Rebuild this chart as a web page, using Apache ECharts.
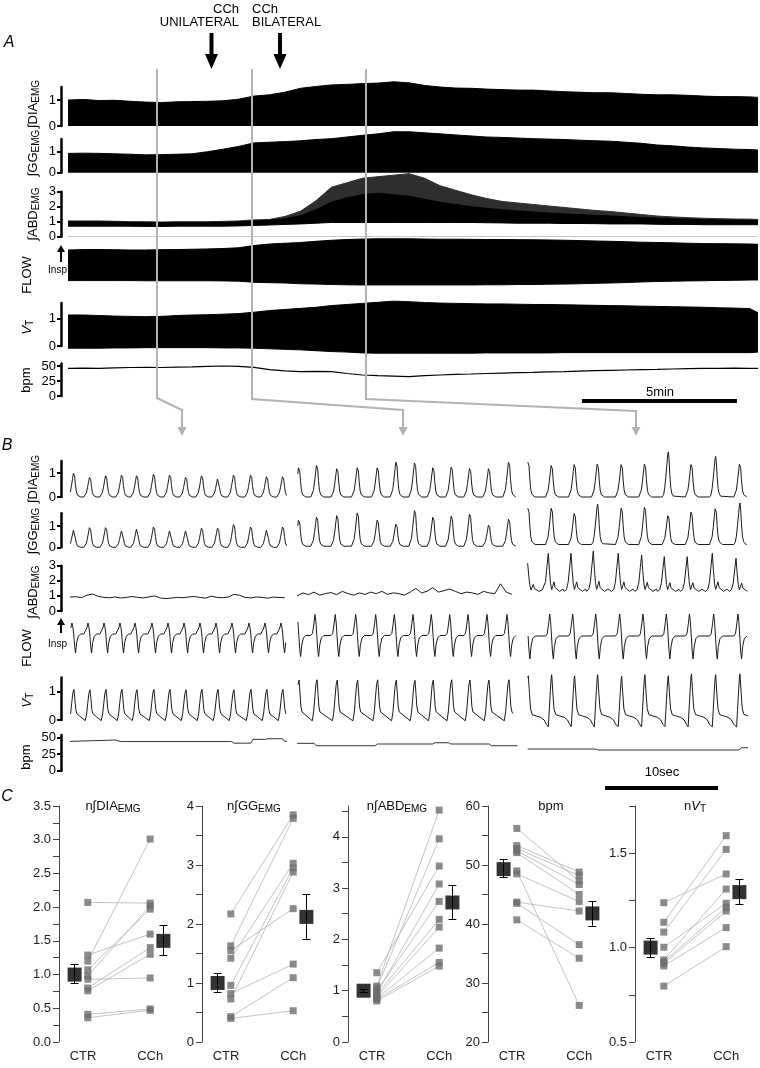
<!DOCTYPE html>
<html><head><meta charset="utf-8">
<script src="https://cdn.jsdelivr.net/npm/echarts@6.0.0/dist/echarts.min.js"></script>
<style>html,body{margin:0;padding:0;background:#fff;}#c{width:760px;height:1068px;}</style>
</head><body><div id="c"></div>
<script>
const FONT = '"Liberation Sans", Arial, Helvetica, sans-serif';

// ================= PANEL A : long recording (time in minutes) =================
const aTime   = [0,0.5,1,1.5,2,2.5,3,3.5,4,4.5,5,5.5,6,6.5,7,7.5,8,8.5,9,9.5,10,10.5,11,11.5,12,12.5,13,13.5,14,14.5,15,15.5,16,16.5,17,17.5,18,18.5,19,19.5,20,20.5,21,21.5,22,22.26];
const aDIA    = [1.0,1.02,0.98,0.99,0.95,0.92,0.9,0.93,0.94,0.95,0.97,1.03,1.15,1.2,1.3,1.45,1.52,1.58,1.6,1.63,1.65,1.7,1.66,1.56,1.5,1.46,1.45,1.42,1.4,1.38,1.38,1.35,1.32,1.3,1.28,1.28,1.25,1.22,1.2,1.2,1.18,1.15,1.13,1.13,1.12,1.1];
const aGG     = [0.92,0.93,0.92,0.9,0.88,0.85,0.86,0.88,0.9,1.0,1.12,1.25,1.42,1.45,1.48,1.52,1.58,1.62,1.7,1.78,1.85,1.95,1.95,1.9,1.85,1.8,1.75,1.7,1.68,1.65,1.62,1.6,1.58,1.55,1.52,1.5,1.45,1.4,1.32,1.28,1.22,1.18,1.15,1.12,1.1,1.08];
const aABDlo  = [0.7,0.7,0.7,0.7,0.7,0.68,0.68,0.7,0.7,0.7,0.7,0.72,0.75,0.78,0.82,0.85,0.9,0.95,0.95,0.95,0.95,0.95,0.95,0.95,0.95,0.95,0.95,0.93,0.92,0.9,0.9,0.9,0.88,0.88,0.87,0.85,0.85,0.85,0.83,0.82,0.82,0.8,0.8,0.8,0.8,0.8];
const aABDcore= [1.0,1.0,1.0,0.98,0.96,0.95,0.94,0.95,0.95,0.95,0.97,1.0,1.05,1.1,1.2,1.4,1.8,2.3,2.6,2.8,2.9,2.8,2.7,2.5,2.3,2.15,2.0,1.9,1.8,1.72,1.65,1.58,1.52,1.47,1.42,1.38,1.33,1.28,1.24,1.2,1.17,1.14,1.12,1.1,1.1,1.08];
const aABDhi  = [1.05,1.05,1.05,1.03,1.0,1.0,0.98,1.0,1.0,1.0,1.02,1.05,1.12,1.15,1.35,1.7,2.4,3.3,3.6,3.9,4.0,4.1,4.2,3.9,3.4,3.1,2.8,2.55,2.35,2.25,2.15,2.05,1.95,1.85,1.75,1.68,1.58,1.48,1.38,1.32,1.27,1.23,1.2,1.18,1.17,1.15];
const aFLOWhi = [1.0,1.03,1.03,1.02,1.0,1.0,1.02,1.03,1.05,1.07,1.1,1.15,1.3,1.4,1.45,1.5,1.58,1.65,1.7,1.73,1.75,1.75,1.75,1.73,1.72,1.72,1.71,1.7,1.7,1.69,1.68,1.67,1.65,1.63,1.6,1.58,1.55,1.52,1.5,1.48,1.45,1.43,1.42,1.41,1.4,1.38];
const aFLOWlo = [-1.04,-1.04,-1.04,-1.04,-1.04,-1.05,-1.05,-1.05,-1.05,-1.05,-1.06,-1.08,-1.15,-1.18,-1.2,-1.25,-1.27,-1.3,-1.32,-1.33,-1.33,-1.33,-1.33,-1.33,-1.33,-1.33,-1.33,-1.32,-1.32,-1.3,-1.3,-1.28,-1.27,-1.25,-1.22,-1.2,-1.17,-1.13,-1.1,-1.08,-1.06,-1.05,-1.03,-1.02,-1.0,-1.0];
const aVThi   = [1.12,1.12,1.1,1.08,1.07,1.06,1.07,1.1,1.12,1.13,1.15,1.17,1.22,1.28,1.32,1.36,1.4,1.46,1.5,1.54,1.58,1.62,1.6,1.57,1.55,1.54,1.53,1.52,1.52,1.51,1.5,1.5,1.49,1.48,1.47,1.46,1.45,1.44,1.43,1.42,1.41,1.4,1.38,1.37,1.35,1.2];
const aVTlo   = [-0.08,-0.08,-0.08,-0.07,-0.07,-0.06,-0.06,-0.06,-0.06,-0.06,-0.07,-0.07,-0.08,-0.1,-0.12,-0.14,-0.17,-0.2,-0.22,-0.25,-0.26,-0.26,-0.26,-0.26,-0.26,-0.26,-0.26,-0.25,-0.25,-0.25,-0.25,-0.25,-0.24,-0.24,-0.24,-0.24,-0.24,-0.24,-0.24,-0.24,-0.24,-0.24,-0.24,-0.24,-0.24,-0.22];
const aBPM    = [46,46.5,46,47,47.5,47.8,47.5,48,48.5,49.5,50,49.5,47.8,44,42,40.6,41.2,40.6,37.5,35,33.9,33,32.2,34,35,36,36.7,37.5,38.2,38.9,39.5,40.2,40.6,41.5,42.2,42.8,43.3,43.8,44.3,45,45.5,46,46.1,46.5,46.2,46.1];
const aScaleBar = [16.58, 21.58];   // 5 min

// ================= PANEL B : expanded segments (time in s) =================
const bSeg1 = [0, 19.2], bSeg2 = [20.1, 39.6], bSeg3 = [40.5, 60.0];
const bPeakT1 = [0.35,1.77,3.19,4.60,5.93,7.43,8.85,10.27,11.68,13.10,14.51,16.02,17.43,18.85];
const bPeakT2 = [20.27,21.86,23.65,25.46,27.23,28.88,30.53,32.15,33.78,35.40,37.08,38.85];
const bPeakT3 = [40.56,42.63,44.66,46.70,48.82,50.88,52.95,55.00,57.14,59.29];
const bDIA1 = [1.04,0.86,0.93,0.96,0.93,1.0,0.96,0.86,0.93,0.79,0.96,0.96,0.89,0.89];
const bDIA2 = [1.28,1.38,1.24,1.28,1.28,1.53,1.49,1.28,1.31,1.25,1.24,1.53];
const bDIA3 = [1.53,1.38,1.42,1.44,1.42,1.44,1.88,1.42,1.69,1.44];
const bGG1 = [0.84,0.97,0.97,0.81,0.89,1.0,0.81,0.81,0.94,0.94,1.12,1.0,0.84,1.0];
const bGG2 = [1.33,1.48,1.56,1.69,1.34,1.14,1.81,1.48,1.53,1.64,1.09,1.38];
const bGG3 = [1.92,1.92,1.66,2.02,1.92,1.97,1.55,1.73,1.89,2.08];
const bGGbase = [0, 0.05, 0.13];
const bVT1 = [1.08,1.07,1.08,1.08,1.07,1.08,1.08,1.07,1.08,1.08,1.07,1.08,1.08,1.08];
const bVT2 = [1.41,1.42,1.41,1.41,1.42,1.41,1.4,1.41,1.42,1.41,1.41,1.42];
const bVT3 = [1.56,1.6,1.56,1.6,1.54,1.6,1.56,1.63,1.6,1.63];
const bFlowUp = [1.1, 2.1, 2.2], bFlowDn = [1.9, 2.1, 2.3], bFlowBase = [0, -0.15, -0.2];
const bABD1 = [0.92,0.95,0.88,1.05,1.12,0.97,0.9,0.88,0.93,0.86,0.9,0.96,0.9,0.87,0.93,1.0,0.86,0.82,0.86,0.9,0.88,0.93,0.96,0.9,0.85,0.98,0.9,0.88,0.92,1.1,1.04,0.9,0.87,0.93,0.9,0.85,0.92,0.9,0.88];
const bABD2 = [1.0,1.2,1.08,1.25,1.05,1.15,1.22,1.08,1.3,1.15,1.05,1.2,1.1,1.25,1.15,1.3,1.1,1.2,1.15,1.05,1.25,1.5,1.2,1.3,1.55,1.25,1.35,1.45,1.3,1.15,1.25,1.2,1.1,1.3,1.2,1.15,1.8,1.25,1.1];
const bABDstep = 0.5;
const bABD3peakT = [40.5,42.33,44.34,46.31,48.52,50.59,52.59,54.62,56.84,58.94];
const bABD3amp = [3.16,3.82,3.82,3.97,3.82,3.71,3.6,3.6,3.82,3.49];
const bABD3base = 1.3;
const bBPM1t = [0,2.0,4.0,4.5,14.3,14.5,16.0,16.2,17.3,17.5,18.8,19.0,19.2];
const bBPM1v = [44.5,45.5,46.5,44.2,44.2,41.8,41.8,47.5,47.5,48.5,48.5,44.5,44.5];
const bBPM2t = [20.1,21.6,21.8,27.0,27.2,32.1,32.3,33.5,33.7,37.1,37.3,39.6];
const bBPM2v = [41.5,41.5,37.9,37.9,40.5,40.5,42.4,42.4,40.5,40.5,37.9,37.9];
const bBPM3t = [40.5,46.5,46.7,59.2,59.4,60.0];
const bBPM3v = [32.9,32.9,31.4,31.4,34.9,34.9];
const bScaleBar = [47.35, 57.35];   // 10 s
// breath waveform shapes (offset from DIA peak in s, fraction of peak)
const emgTplT  = [-0.55,-0.42,-0.32,-0.22,-0.12,-0.05,0,0.06,0.13,0.22,0.32,0.45,0.6];
const emgTplV  = [0,0.05,0.2,0.45,0.75,0.95,1,0.85,0.5,0.2,0.07,0.02,0];
const vtTplT12 = [-0.42,-0.3,-0.2,-0.1,0,0.08,0.16,0.26,0.36];
const vtTplV12 = [-0.02,0.2,0.55,0.88,1,0.7,0.35,0.2,0.16];
const vtTplT3  = [-0.3,-0.22,-0.12,-0.04,0,0.1,0.2,0.35,0.7,1.1,1.4,1.6];
const vtTplV3  = [-0.15,0.2,0.65,0.95,1,0.6,0.25,0.12,0.09,0.06,0.0,-0.1];
const flowTplT = [-0.55,-0.4,-0.28,-0.18,-0.1,-0.02,0.06,0.14,0.24,0.38,0.6];
const flowTplV = [0,0.1,0.55,1,0.65,0,-0.65,-1,-0.45,-0.12,0];
const abdTplT  = [-0.6,-0.4,-0.25,-0.12,0,0.1,0.2,0.3,0.4,0.5,0.6,0.75,1.0,1.3];
const abdTplV  = [0,0.05,0.25,0.65,1,0.55,0.2,0.05,0.15,0.25,0.1,0.05,0.0,0.06];

// ================= PANEL C : group data =================
const cLabels = ['CTR', 'CCh'];
const cDIActr = [2.07,1.29,1.20,1.07,0.98,0.93,0.80,0.76,0.41,0.36];
const cDIAcch = [2.06,1.60,3.01,1.97,2.02,0.95,1.40,1.30,0.49,0.47];
const cDIAmean = [1.0, 1.5], cDIAerr = [[0.87,1.15],[1.28,1.73]];
const cGGctr = [2.17,1.63,1.55,1.42,0.96,0.82,0.73,0.43,0.40];
const cGGcch = [3.85,3.79,2.26,3.03,2.95,1.32,2.88,1.09,0.53];
const cGGmean = [1.0, 2.12], cGGerr = [[0.85,1.17],[1.75,2.5]];
const cABDctr = [1.35,1.09,1.05,1.0,0.95,0.92,0.88,0.85,0.83,0.80];
const cABDcch = [3.43,4.52,3.96,2.74,3.08,2.39,2.24,1.83,1.55,1.48];
const cABDmean = [1.0, 2.72], cABDerr = [[0.97,1.03],[2.39,3.05]];
const cBPMctr = [56.2,53.3,52.8,52.4,52.1,49.0,48.5,43.7,43.5,40.7];
const cBPMcch = [47.3,48.8,48.2,46.7,45.0,26.2,43.8,42.2,36.5,34.2];
const cBPMmean = [49.3, 41.8], cBPMerr = [[47.9,50.9],[39.7,43.8]];
const cVTctr = [1.238,1.134,1.082,1.002,0.935,0.925,0.915,0.903,0.796];
const cVTcch = [1.39,1.593,1.52,1.235,1.31,1.213,1.194,1.106,1.005];
const cVTmean = [1.0, 1.294], cVTerr = [[0.95,1.05],[1.23,1.36]];

// ================= build =================
const grid = [], xAxis = [], yAxis = [], series = [];
function addGrid(box, xr, yOpt, xOpt) {
  const i = grid.length;
  grid.push({left: box[0], top: box[1], width: box[2], height: box[3], containLabel: false, outerBoundsMode: 'none'});
  xAxis.push(Object.assign({gridIndex: i, type: 'value', min: xr[0], max: xr[1], show: false}, xOpt || {}));
  yAxis.push(Object.assign({gridIndex: i, type: 'value'}, yOpt));
  return i;
}
function traceY(min, max, ticks) {
  if (!ticks) return {min, max, show: false};
  return {min, max, show: true,
    axisLine: {show: true, onZero: false, lineStyle: {color: '#000', width: 2.5}},
    axisTick: {show: true, length: 4, customValues: ticks, lineStyle: {color: '#000', width: 2}},
    axisLabel: {show: true, customValues: ticks, fontSize: 13, color: '#000', margin: 5, fontFamily: FONT},
    splitLine: {show: false}};
}
function line(i, data, o) {
  series.push(Object.assign({type: 'line', xAxisIndex: i, yAxisIndex: i, data, symbol: 'none', clip: false,
    silent: true, animation: false, lineStyle: {color: '#000', width: 1}}, o || {}));
}
const zip = (xs, ys) => xs.map((x, k) => [x, ys[k]]);
const area = c => ({color: c, opacity: 1, origin: 'auto'});

// ---- Panel A ----
const AX = [-0.226, 22.26], AL = 61, AW = 697;
const gA1 = addGrid([AL, 87, AW, 39], AX, traceY(0, 1.5, [0, 1]));
const gA2 = addGrid([AL, 139.1, AW, 33.6], AX, traceY(0, 1.6, [0, 1]));
const gA3 = addGrid([AL, 191.7, AW, 45], AX, traceY(0, 3, [0, 1, 2, 3]));
const gA4 = addGrid([AL, 235, AW, 60], AX, traceY(-2, 2, null));
const gA5 = addGrid([AL, 303.1, AW, 42.9], AX, traceY(0, 1.55, [0, 1]));
const gA6 = addGrid([AL, 363.6, AW, 32.4], AX, traceY(0, 54, [0, 25, 50]));
const gAs = addGrid([AL, 396, AW, 10], AX, {min: 0, max: 10, show: false});
line(gA1, zip(aTime, aDIA), {areaStyle: area('#000')});
line(gA2, zip(aTime, aGG), {areaStyle: area('#000')});
line(gA3, zip(aTime, aABDhi), {areaStyle: area('#2e2e2e'), lineStyle: {color: '#2e2e2e', width: 1}});
line(gA3, zip(aTime, aABDcore), {areaStyle: area('#000')});
line(gA3, zip(aTime, aABDlo), {areaStyle: area('#fff')});
line(gA4, zip(aTime, aFLOWhi), {areaStyle: area('#000')});
line(gA4, zip(aTime, aFLOWlo), {areaStyle: area('#000')});
line(gA5, zip(aTime, aVThi), {areaStyle: area('#000')});
line(gA5, zip(aTime, aVTlo), {areaStyle: area('#000')});
line(gA6, zip(aTime, aBPM), {lineStyle: {color: '#000', width: 1.2}});
line(gAs, aScaleBar.map(t => [t, 5]), {lineStyle: {color: '#000', width: 4}});

// ---- Panel B ----
const BX = [-0.796, 60.0], BW = 687;
const gB1 = addGrid([AL, 461, BW, 36], BX, traceY(0, 1.5, [0, 1]));
const gB2 = addGrid([AL, 513.2, BW, 34.1], BX, traceY(0, 1.6, [0, 1]));
const gB3 = addGrid([AL, 565.7, BW, 45.3], BX, traceY(0, 3, [0, 1, 2, 3]));
const gB4 = addGrid([AL, 614, BW, 40], BX, traceY(-2, 2, null));
const gB5 = addGrid([AL, 677.5, BW, 42.5], BX, traceY(0, 1.5, [0, 1]));
const gB6 = addGrid([AL, 735.1, BW, 35.6], BX, traceY(0, 54, [0, 25, 50]));
const gBs = addGrid([AL, 780, BW, 16], BX, {min: 0, max: 16, show: false});

function breaths(peakT, amps, tplT, tplV, base, seg) {
  const out = [];
  peakT.forEach((tp, k) => tplT.forEach((dt, j) => {
    const t = tp + dt;
    if (t >= seg[0] && t <= seg[1]) out.push([t, base + tplV[j] * (amps[k] - base)]);
  }));
  return out;
}
function flowBreaths(peakT, up, dn, base, seg) {
  const out = [];
  peakT.forEach(tp => flowTplT.forEach((dt, j) => {
    const t = tp + dt, v = flowTplV[j];
    if (t >= seg[0] && t <= seg[1]) out.push([t, base + (v >= 0 ? v * up : v * dn)]);
  }));
  return out;
}
const BS = {color: '#1a1a1a', width: 1};
const segs = [bSeg1, bSeg2, bSeg3], peaks = [bPeakT1, bPeakT2, bPeakT3];
const dia = [bDIA1, bDIA2, bDIA3], gg = [bGG1, bGG2, bGG3], vt = [bVT1, bVT2, bVT3];
segs.forEach((seg, s) => {
  line(gB1, breaths(peaks[s], dia[s], emgTplT, emgTplV, 0, seg), {lineStyle: BS});
  line(gB2, breaths(peaks[s], gg[s], emgTplT, emgTplV, bGGbase[s], seg), {lineStyle: BS});
  line(gB4, flowBreaths(peaks[s], bFlowUp[s], bFlowDn[s], bFlowBase[s], seg), {lineStyle: BS});
  if (s < 2) line(gB5, breaths(peaks[s], vt[s], vtTplT12, vtTplV12, 0, seg), {lineStyle: BS});
  else line(gB5, breaths(peaks[s], vt[s], vtTplT3, vtTplV3, 0, seg), {lineStyle: BS});
});
line(gB3, bABD1.map((v, k) => [bSeg1[0] + k * bABDstep, v]), {lineStyle: BS});
line(gB3, bABD2.map((v, k) => [bSeg2[0] + k * bABDstep, v]), {lineStyle: BS});
line(gB3, breaths(bABD3peakT, bABD3amp, abdTplT, abdTplV, bABD3base, bSeg3), {lineStyle: BS});
line(gB6, zip(bBPM1t, bBPM1v), {lineStyle: {color: '#333', width: 1}});
line(gB6, zip(bBPM2t, bBPM2v), {lineStyle: {color: '#333', width: 1}});
line(gB6, zip(bBPM3t, bBPM3v), {lineStyle: {color: '#333', width: 1}});
line(gBs, bScaleBar.map(t => [t, 8]), {lineStyle: {color: '#000', width: 4}});

// ---- Panel C ----
const CX = {ctrMean: 1.3, ctrInd: 2.4, cchInd: 7.6, cchMean: 8.7};
const cXAxis = {show: true, axisLine: {show: false}, axisTick: {show: false}, splitLine: {show: false},
  axisLabel: {show: true, customValues: [2.0, 7.6], formatter: v => (v < 5 ? cLabels[0] : cLabels[1]),
    fontSize: 13, color: '#222', margin: 8, fontFamily: FONT}};
function statY(min, max, interval, labelFn, tickVals, labelVals) {
  const o = {min, max, show: true,
    axisLine: {show: true, onZero: false, lineStyle: {color: '#444', width: 1}},
    axisTick: {show: true, length: 6, lineStyle: {color: '#444', width: 1}},
    axisLabel: {show: true, fontSize: 13, color: '#222', margin: 8, fontFamily: FONT, formatter: labelFn},
    splitLine: {show: false}};
  if (interval) o.interval = interval;
  if (tickVals) { o.axisTick.customValues = tickVals; o.axisLabel.customValues = labelVals; }
  return o;
}
function statPanel(left, yOpt, ctr, cch, mean, err) {
  const i = addGrid([left, 806, 120, 236], [0, 10], yOpt, cXAxis);
  series.push({type: 'lines', coordinateSystem: 'cartesian2d', xAxisIndex: i, yAxisIndex: i, silent: true, z: 1,
    lineStyle: {color: '#b4b4b4', width: 0.8, opacity: 1},
    data: ctr.map((v, k) => ({coords: [[CX.ctrInd, v], [CX.cchInd, cch[k]]]}))});
  series.push({type: 'scatter', xAxisIndex: i, yAxisIndex: i, silent: true, z: 2, symbol: 'rect', symbolSize: 7,
    itemStyle: {color: '#6e6e6e'},
    data: ctr.map(v => [CX.ctrInd, v]).concat(cch.map(v => [CX.cchInd, v]))});
  const eb = [];
  [[CX.ctrMean, err[0]], [CX.cchMean, err[1]]].forEach(([x, e]) => {
    eb.push({coords: [[x, e[0]], [x, e[1]]]});
    eb.push({coords: [[x - 0.33, e[0]], [x + 0.33, e[0]]]});
    eb.push({coords: [[x - 0.33, e[1]], [x + 0.33, e[1]]]});
  });
  series.push({type: 'lines', coordinateSystem: 'cartesian2d', xAxisIndex: i, yAxisIndex: i, silent: true, z: 3,
    lineStyle: {color: '#000', width: 1, opacity: 1}, data: eb});
  series.push({type: 'scatter', xAxisIndex: i, yAxisIndex: i, silent: true, z: 4, symbol: 'rect', symbolSize: 14,
    itemStyle: {color: '#000'}, data: [[CX.ctrMean, mean[0]], [CX.cchMean, mean[1]]]});
  series.push({type: 'scatter', xAxisIndex: i, yAxisIndex: i, silent: true, z: 5, symbol: 'rect', symbolSize: 1,
    itemStyle: {opacity: 0}, data: [[CX.cchMean + 0.75, err[1][1]]],
    label: {show: true, formatter: '*', position: 'inside', fontSize: 11, color: '#000', fontFamily: FONT, offset: [0, 1]}});
  return i;
}
const half = v => Math.abs(v * 2 - Math.round(v * 2)) < 1e-6;
statPanel(59, statY(0, 3.5, 0.25, v => (half(v) ? v.toFixed(1) : '')), cDIActr, cDIAcch, cDIAmean, cDIAerr);
statPanel(202, statY(0, 4, 0.5, v => (v % 1 === 0 ? String(v) : '')), cGGctr, cGGcch, cGGmean, cGGerr);
statPanel(348, statY(0, 4.6, null, v => String(v), [0,0.5,1,1.5,2,2.5,3,3.5,4,4.5], [0,1,2,3,4]), cABDctr, cABDcch, cABDmean, cABDerr);
statPanel(488, statY(20, 60, 5, v => (v % 10 === 0 ? String(v) : '')), cBPMctr, cBPMcch, cBPMmean, cBPMerr);
statPanel(635, statY(0.5, 1.75, 0.25, v => (half(v) ? v.toFixed(1) : '')), cVTctr, cVTcch, cVTmean, cVTerr);

// ---- annotations ----
const G = [];
const RICH = {
  s: {fontSize: 10, lineHeight: 10, padding: [21, 0, 0, 0], verticalAlign: 'bottom', fontFamily: FONT, fill: '#000'},
  i: {fontSize: 13, lineHeight: 16, fontStyle: 'italic', fontFamily: FONT, fill: '#000'}
};
function txt(x, y, text, o) {
  G.push({type: 'text', x, y, z: 100, silent: true,
    style: Object.assign({text, fontFamily: FONT, fontSize: 13, fill: '#000', align: 'center', verticalAlign: 'middle'}, o || {})});
}
function rtxt(x, y, text) {
  G.push({type: 'text', x, y, rotation: Math.PI / 2, z: 100, silent: true,
    style: {text, fontFamily: FONT, fontSize: 13, lineHeight: 16, fill: '#000', align: 'center', verticalAlign: 'middle', rich: RICH}});
}
txt(9, 43, 'A', {fontSize: 16, fontStyle: 'italic'});
txt(7, 446, 'B', {fontSize: 16, fontStyle: 'italic'});
txt(7, 797, 'C', {fontSize: 16, fontStyle: 'italic'});
txt(239, 9, 'CCh', {align: 'right'});
txt(239, 22, 'UNILATERAL', {align: 'right'});
txt(252, 9, 'CCh', {align: 'left'});
txt(252, 22, 'BILATERAL', {align: 'left'});
[211.5, 280].forEach(x => {
  G.push({type: 'rect', z: 100, silent: true, shape: {x: x - 2, y: 33, width: 4, height: 23}, style: {fill: '#000'}});
  G.push({type: 'polygon', z: 100, silent: true, shape: {points: [[x - 6.5, 54], [x + 6.5, 54], [x, 69]]}, style: {fill: '#000'}});
});
// rotated channel names
[[33, 104, '∫DIA{s|EMG}'], [33, 153, '∫GG{s|EMG}'], [33, 214, '∫ABD{s|EMG}'], [27, 275, 'FLOW'], [27, 327, '{i|V}{s|T}'], [26, 380, 'bpm'],
 [33, 479, '∫DIA{s|EMG}'], [33, 531, '∫GG{s|EMG}'], [33, 592, '∫ABD{s|EMG}'], [27, 648, 'FLOW'], [27, 700, '{i|V}{s|T}'], [26, 757, 'bpm']]
  .forEach(([x, y, t]) => rtxt(x, y, t));
// Insp arrows
[[270, 262, 245], [644, 633, 618]].forEach(([ty, y0, y1]) => {
  txt(57.5, ty, 'Insp', {fontSize: 10});
  G.push({type: 'line', z: 100, silent: true, shape: {x1: 61, y1: y0, x2: 61, y2: y1 + 5}, style: {stroke: '#000', lineWidth: 2}});
  G.push({type: 'polygon', z: 100, silent: true, shape: {points: [[57, y1 + 7], [65, y1 + 7], [61, y1]]}, style: {fill: '#000'}});
});
// grey connectors A -> B
[[157, 398, 182, 410], [252, 399, 403, 410], [366, 399, 636, 411]].forEach(([x0, y0, x1, y1]) => {
  G.push({type: 'polyline', z: 100, silent: true, shape: {points: [[x0, 69], [x0, y0], [x1, y1], [x1, 428]]},
    style: {stroke: '#b3b3b3', lineWidth: 2, fill: null}});
  G.push({type: 'polygon', z: 100, silent: true, shape: {points: [[x1 - 4.5, 427], [x1 + 4.5, 427], [x1, 436]]}, style: {fill: '#b3b3b3'}});
});
txt(660, 392, '5min');
txt(662, 772, '10sec');
// panel C titles
[[113, 806, 'n∫DIA{s|EMG}'], [254, 806, 'n∫GG{s|EMG}'], [397, 806, 'n∫ABD{s|EMG}'], [551, 806, 'bpm'], [695, 806, 'n{i|V}{s|T}']]
  .forEach(([x, y, t]) => G.push({type: 'text', x, y, z: 100, silent: true,
    style: {text: t, fontFamily: FONT, fontSize: 13, lineHeight: 16, fill: '#111', align: 'center', verticalAlign: 'middle', rich: RICH}}));

const chart = echarts.init(document.getElementById('c'), null, {renderer: 'canvas', width: 760, height: 1068});
chart.setOption({
  animation: false,
  backgroundColor: '#fff',
  textStyle: {fontFamily: FONT},
  grid, xAxis, yAxis, series,
  graphic: {elements: G}
});
</script>
</body></html>
